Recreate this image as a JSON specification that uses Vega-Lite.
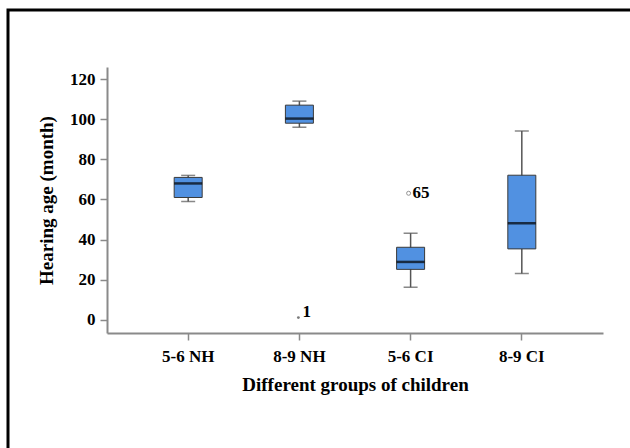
{
  "$schema": "https://vega.github.io/schema/vega-lite/v6.json",
  "width": 640,
  "height": 450,
  "padding": {"left": 8, "top": 10, "right": 0, "bottom": 0},
  "autosize": {"type": "none"},
  "background": "white",
  "config": {
    "view": {"stroke": "black", "strokeWidth": 3},
    "font": "Liberation Serif",
    "axis": {
      "grid": false,
      "domainColor": "#8a8a8a",
      "domainWidth": 2,
      "tickColor": "#8a8a8a",
      "tickWidth": 1.5,
      "tickSize": 7,
      "labelFont": "Liberation Serif",
      "labelFontWeight": "bold",
      "labelFontSize": 17,
      "labelColor": "black",
      "titleFont": "Liberation Serif",
      "titleFontWeight": "bold",
      "titleFontSize": 19,
      "titleColor": "black"
    }
  },
  "datasets": {
    "boxes": [
      {"group": "5-6 NH", "min": 59, "q1": 61, "median": 68, "q3": 71, "max": 72},
      {"group": "8-9 NH", "min": 96, "q1": 98, "median": 100.3, "q3": 107, "max": 109},
      {"group": "5-6 CI", "min": 16.3, "q1": 25.2, "median": 28.9, "q3": 36.2, "max": 43.2},
      {"group": "8-9 CI", "min": 23.2, "q1": 35.4, "median": 48.2, "q3": 72.1, "max": 94.1}
    ],
    "outliers": [
      {"group": "8-9 NH", "value": 1.2, "label": "1", "kind": "extreme"},
      {"group": "5-6 CI", "value": 63.1, "label": "65", "kind": "outlier"}
    ]
  },
  "layer": [
    {
      "data": {"name": "boxes"},
      "mark": {"type": "rule", "color": "#555555", "strokeWidth": 1.5},
      "encoding": {
        "x": {
          "field": "group", "type": "nominal",
          "sort": ["5-6 NH", "8-9 NH", "5-6 CI", "8-9 CI"],
          "scale": {"type": "band", "range": [99, 595], "paddingInner": 0, "paddingOuter": 0.23},
          "axis": {"title": "Different groups of children", "labelAngle": 0, "offset": -127, "labelPadding": 8, "titlePadding": 11}
        },
        "y": {
          "field": "min", "type": "quantitative",
          "scale": {"domain": [-6.5, 126], "range": [323, 57], "nice": false, "zero": false},
          "axis": {"title": "Hearing age (month)", "values": [0, 20, 40, 60, 80, 100, 120], "offset": -99, "labelPadding": 5, "titlePadding": 13}
        },
        "y2": {"field": "max"}
      }
    },
    {
      "data": {"name": "boxes"},
      "mark": {"type": "tick", "color": "#555555", "size": 14, "thickness": 1.5},
      "encoding": {
        "x": {"field": "group", "type": "nominal", "sort": ["5-6 NH", "8-9 NH", "5-6 CI", "8-9 CI"]},
        "y": {"field": "min", "type": "quantitative"}
      }
    },
    {
      "data": {"name": "boxes"},
      "mark": {"type": "tick", "color": "#555555", "size": 14, "thickness": 1.5},
      "encoding": {
        "x": {"field": "group", "type": "nominal", "sort": ["5-6 NH", "8-9 NH", "5-6 CI", "8-9 CI"]},
        "y": {"field": "max", "type": "quantitative"}
      }
    },
    {
      "data": {"name": "boxes"},
      "mark": {"type": "bar", "size": 28, "fill": "#5191e1", "stroke": "#3a3a3a", "strokeWidth": 1},
      "encoding": {
        "x": {"field": "group", "type": "nominal", "sort": ["5-6 NH", "8-9 NH", "5-6 CI", "8-9 CI"]},
        "y": {"field": "q1", "type": "quantitative"},
        "y2": {"field": "q3"}
      }
    },
    {
      "data": {"name": "boxes"},
      "mark": {"type": "tick", "color": "black", "size": 28, "thickness": 2.5},
      "encoding": {
        "x": {"field": "group", "type": "nominal", "sort": ["5-6 NH", "8-9 NH", "5-6 CI", "8-9 CI"]},
        "y": {"field": "median", "type": "quantitative"}
      }
    },
    {
      "data": {"name": "outliers"},
      "mark": {"type": "point", "filled": false, "size": 16, "color": "#666666", "strokeWidth": 1, "xOffset": -2},
      "transform": [{"filter": "datum.kind === 'outlier'"}],
      "encoding": {
        "x": {"field": "group", "type": "nominal", "sort": ["5-6 NH", "8-9 NH", "5-6 CI", "8-9 CI"]},
        "y": {"field": "value", "type": "quantitative"}
      }
    },
    {
      "data": {"name": "outliers"},
      "mark": {"type": "point", "filled": true, "size": 8, "color": "#444444", "xOffset": -1},
      "transform": [{"filter": "datum.kind === 'extreme'"}],
      "encoding": {
        "x": {"field": "group", "type": "nominal", "sort": ["5-6 NH", "8-9 NH", "5-6 CI", "8-9 CI"]},
        "y": {"field": "value", "type": "quantitative"}
      }
    },
    {
      "data": {"name": "outliers"},
      "mark": {"type": "text", "align": "left", "baseline": "middle", "font": "Liberation Serif", "fontWeight": "bold", "fontSize": 17, "color": "black", "dx": 3, "dy": -6},
      "transform": [{"filter": "datum.kind === 'extreme'"}],
      "encoding": {
        "x": {"field": "group", "type": "nominal", "sort": ["5-6 NH", "8-9 NH", "5-6 CI", "8-9 CI"]},
        "y": {"field": "value", "type": "quantitative"},
        "text": {"field": "label"}
      }
    },
    {
      "data": {"name": "outliers"},
      "mark": {"type": "text", "align": "left", "baseline": "middle", "font": "Liberation Serif", "fontWeight": "bold", "fontSize": 17, "color": "black", "dx": 2, "dy": 0},
      "transform": [{"filter": "datum.kind === 'outlier'"}],
      "encoding": {
        "x": {"field": "group", "type": "nominal", "sort": ["5-6 NH", "8-9 NH", "5-6 CI", "8-9 CI"]},
        "y": {"field": "value", "type": "quantitative"},
        "text": {"field": "label"}
      }
    }
  ]
}
